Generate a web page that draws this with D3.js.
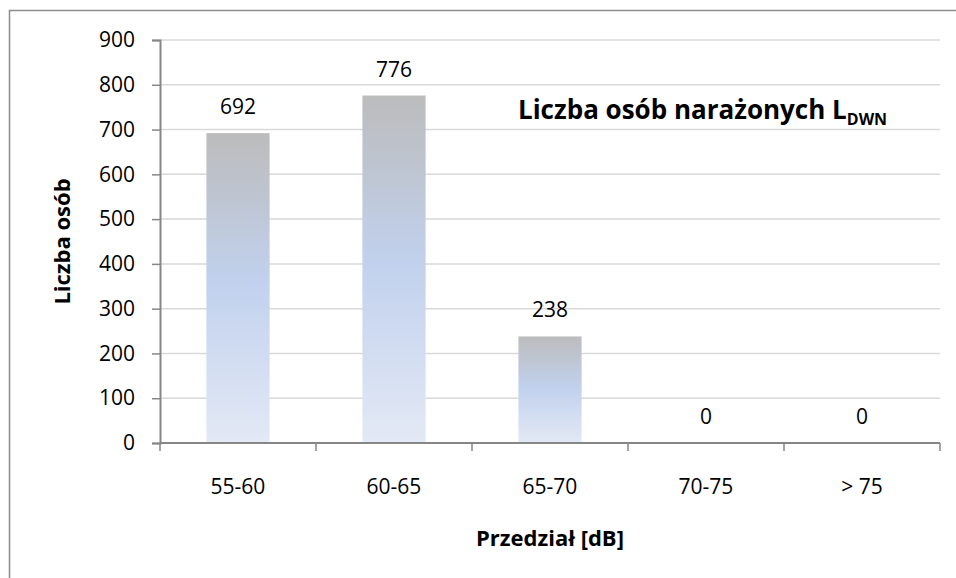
<!DOCTYPE html>
<html>

<head>
    <title>Liczba osób narażonych</title>
    <script src="https://cdn.jsdelivr.net/npm/d3@7"></script>
    <style>
        body { margin: 0; background: #fff; }
        text { font-family: "Open Sans", "Noto Sans", sans-serif; fill: #000; }
    </style>
</head>

<body>
    <svg width="956" height="578" id="mainsvg"></svg>
    <script>
        // data
        const categories = ['55-60', '60-65', '65-70', '70-75', '> 75'];
        const values = [692, 776, 238, 0, 0];
        const yTicks = [0, 100, 200, 300, 400, 500, 600, 700, 800, 900];

        const svg = d3.select('#mainsvg');
        const margin = { top: 40, left: 160, right: 16, bottom: 135 };
        const width = +svg.attr('width');
        const height = +svg.attr('height');
        const innerW = width - margin.left - margin.right;
        const innerH = height - margin.top - margin.bottom;

        // outer chart border (only left/top visible, chart is cropped)
        svg.append('rect')
            .attr('x', 9.5).attr('y', 10.5)
            .attr('width', width + 20).attr('height', height + 20)
            .attr('fill', 'none')
            .attr('stroke', '#8c8c8c')
            .attr('stroke-width', 1.5);

        const defs = svg.append('defs');
        const grad = defs.append('linearGradient')
            .attr('id', 'barGrad')
            .attr('x1', 0).attr('y1', 0).attr('x2', 0).attr('y2', 1);
        grad.append('stop').attr('offset', '0%').attr('stop-color', '#bcbcbc');
        grad.append('stop').attr('offset', '48%').attr('stop-color', '#c1d1ed');
        grad.append('stop').attr('offset', '100%').attr('stop-color', '#e3e9f5');

        const g = svg.append('g')
            .attr('transform', `translate(${margin.left}, ${margin.top})`);

        const x = d3.scaleBand()
            .domain(categories)
            .range([0, innerW])
            .paddingInner(0.595)
            .paddingOuter(0.2975);

        const y = d3.scaleLinear()
            .domain([0, 900])
            .range([innerH, 0]);

        // gridlines
        g.selectAll('.grid')
            .data(yTicks.filter(d => d > 0))
            .join('line')
            .attr('class', 'grid')
            .attr('x1', 0).attr('x2', innerW)
            .attr('y1', d => y(d)).attr('y2', d => y(d))
            .attr('stroke', '#d9d9d9')
            .attr('stroke-width', 1.5);

        // bars
        g.selectAll('.bar')
            .data(values.map((v, i) => ({ name: categories[i], value: v })).filter(d => d.value > 0))
            .join('rect')
            .attr('class', 'bar')
            .attr('x', d => x(d.name))
            .attr('width', x.bandwidth())
            .attr('y', d => y(d.value))
            .attr('height', d => y(0) - y(d.value))
            .attr('fill', 'url(#barGrad)');

        // data labels
        g.selectAll('.datatext')
            .data(values.map((v, i) => ({ name: categories[i], value: v })))
            .join('text')
            .attr('class', 'datatext')
            .attr('text-anchor', 'middle')
            .attr('font-size', '21px')
            .attr('x', d => x(d.name) + x.bandwidth() / 2)
            .attr('y', d => y(d.value) - 19)
            .text(d => d.value);

        // y axis
        const yAxis = g.append('g')
            .call(d3.axisLeft(y).tickValues(yTicks).tickSize(8).tickPadding(17));
        yAxis.select('.domain').attr('stroke', '#868686').attr('stroke-width', 2);
        yAxis.selectAll('.tick line').attr('stroke', '#868686').attr('stroke-width', 1.5);
        yAxis.selectAll('text')
            .attr('font-size', '21px')
            .attr('font-family', '"Open Sans", sans-serif')
            .attr('fill', '#000');

        // x axis: ticks sit between the categories
        const step = x.step();
        const xAxis = g.append('g').attr('transform', `translate(0, ${innerH})`);
        xAxis.append('line')
            .attr('x1', 0).attr('x2', innerW)
            .attr('stroke', '#868686').attr('stroke-width', 2);
        xAxis.selectAll('.xtick')
            .data(d3.range(categories.length + 1))
            .join('line')
            .attr('class', 'xtick')
            .attr('x1', i => i * step).attr('x2', i => i * step)
            .attr('y1', 0).attr('y2', 8)
            .attr('stroke', '#868686').attr('stroke-width', 1.5);
        xAxis.selectAll('.xlabel')
            .data(categories)
            .join('text')
            .attr('class', 'xlabel')
            .attr('text-anchor', 'middle')
            .attr('font-size', '21px')
            .attr('x', d => x(d) + x.bandwidth() / 2)
            .attr('y', 51)
            .text(d => d);

        // axis titles
        g.append('text')
            .attr('text-anchor', 'middle')
            .attr('font-weight', 'bold')
            .attr('font-size', '22px')
            .attr('x', innerW / 2)
            .attr('y', innerH + 103)
            .text('Przedział [dB]');

        g.append('text')
            .attr('text-anchor', 'middle')
            .attr('font-weight', 'bold')
            .attr('font-size', '22px')
            .attr('transform', `translate(${62 - margin.left}, ${innerH / 2}) rotate(-90)`)
            .attr('dy', '0.35em')
            .text('Liczba osób');

        // chart title inside the plot
        const title = svg.append('text')
            .attr('x', 518)
            .attr('y', 119)
            .attr('font-weight', 'bold')
            .attr('font-size', '26px');
        title.append('tspan').text('Liczba osób narażonych L');
        title.append('tspan')
            .attr('font-size', '16px')
            .attr('dy', 6)
            .text('DWN');
    </script>
</body>

</html>
